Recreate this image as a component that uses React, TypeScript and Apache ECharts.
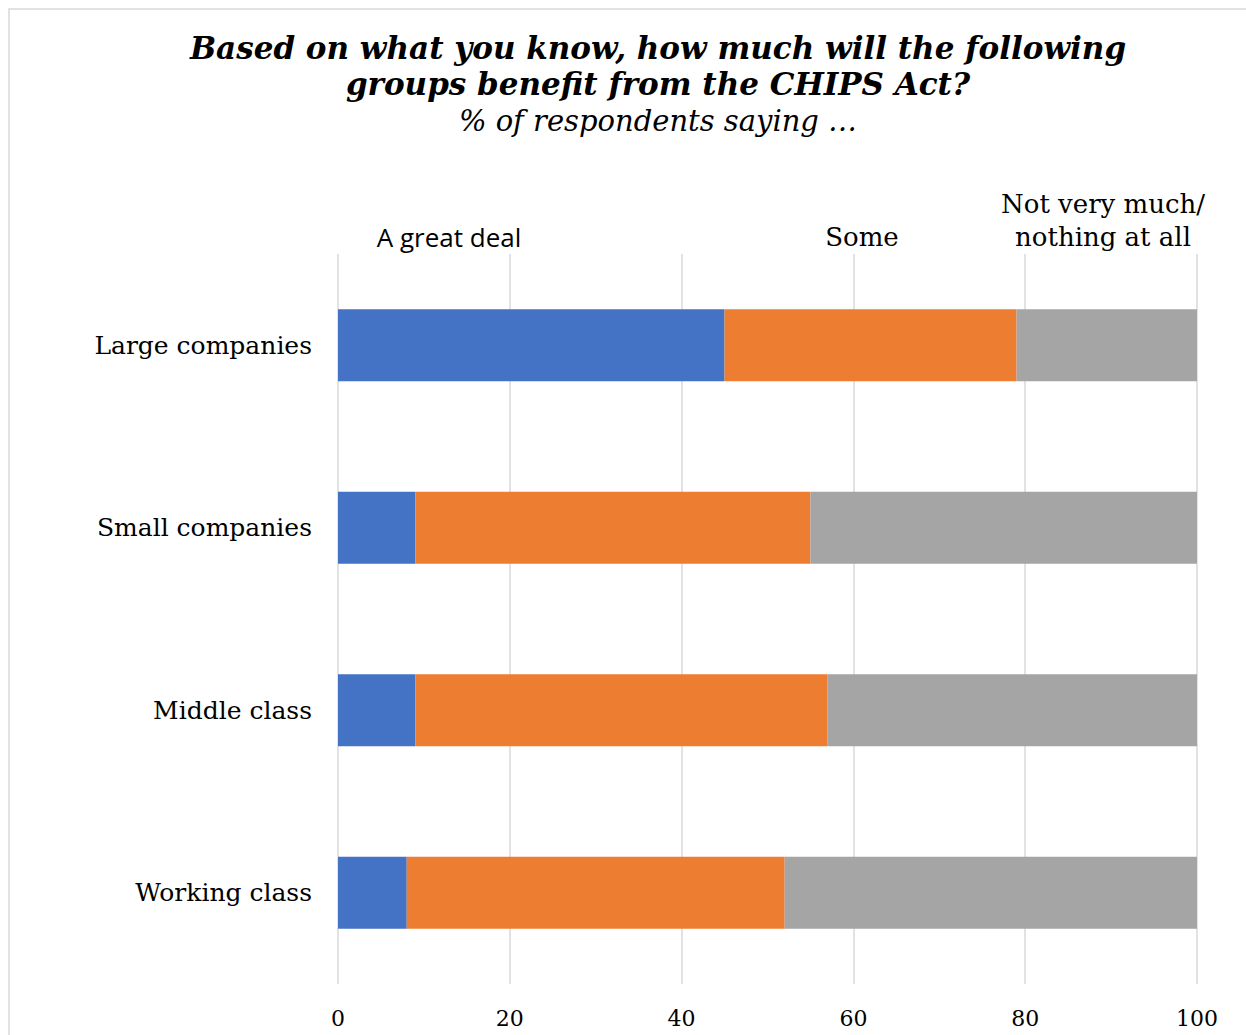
import React, { useEffect, useRef } from "react";
import * as echarts from "echarts";

const categories = ["Large companies", "Small companies", "Middle class", "Working class"];
const greatDeal = [45, 9, 9, 8];
const some = [34, 46, 48, 44];
const notMuch = [21, 45, 43, 48];
const xTicks = [0, 20, 40, 60, 80, 100];
const seriesNames = ["A great deal", "Some", "Not very much/\nnothing at all"];

export default function App() {
  const ref = useRef<HTMLDivElement>(null);
  useEffect(() => {
    if (!ref.current) return;
    const chart = echarts.init(ref.current, null, { renderer: "svg" });
    const serif = "DejaVu Serif";
    chart.setOption({
      animation: false,
      backgroundColor: "#ffffff",
      grid: { left: 338, right: 49, top: 254, bottom: 51, containLabel: false },
      xAxis: {
        type: "value",
        min: xTicks[0],
        max: xTicks[xTicks.length - 1],
        interval: 20,
        axisLine: { show: false },
        axisTick: { show: false },
        splitLine: { show: true, lineStyle: { color: "#d9d9d9", width: 1.5 } },
        axisLabel: { fontFamily: serif, fontSize: 22, color: "#000", margin: 23 },
      },
      yAxis: {
        type: "category",
        data: categories,
        inverse: true,
        axisLine: { show: false },
        axisTick: { show: false },
        axisLabel: { fontFamily: serif, fontSize: 25, color: "#000", margin: 26 },
      },
      series: [
        { name: seriesNames[0], type: "bar", stack: "t", data: greatDeal, barWidth: 72, itemStyle: { color: "#4472C4" } },
        { name: seriesNames[1], type: "bar", stack: "t", data: some, barWidth: 72, itemStyle: { color: "#ED7D31" } },
        { name: seriesNames[2], type: "bar", stack: "t", data: notMuch, barWidth: 72, itemStyle: { color: "#A5A5A5" } },
      ],
      graphic: [
        { type: "rect", shape: { x: 9, y: 9, width: 1400, height: 1200 }, style: { fill: "none", stroke: "#d9d9d9", lineWidth: 1.5 }, silent: true },
        { type: "text", x: 658, y: 48, style: { text: "Based on what you know, how much will the following", font: `italic bold 31px "${serif}"`, fill: "#000", textAlign: "center", textVerticalAlign: "middle" } },
        { type: "text", x: 658, y: 84, style: { text: "groups benefit from the CHIPS Act?", font: `italic bold 31px "${serif}"`, fill: "#000", textAlign: "center", textVerticalAlign: "middle" } },
        { type: "text", x: 658, y: 121, style: { text: "% of respondents saying …", font: `italic 29px "${serif}"`, fill: "#000", textAlign: "center", textVerticalAlign: "middle" } },
        { type: "text", x: 449, y: 237, style: { text: seriesNames[0], font: `26px "Open Sans"`, fill: "#000", textAlign: "center", textVerticalAlign: "middle" } },
        { type: "text", x: 862, y: 237, style: { text: seriesNames[1], font: `26px "${serif}"`, fill: "#000", textAlign: "center", textVerticalAlign: "middle" } },
        { type: "text", x: 1103, y: 204, style: { text: "Not very much/", font: `26px "${serif}"`, fill: "#000", textAlign: "center", textVerticalAlign: "middle" } },
        { type: "text", x: 1103, y: 237, style: { text: "nothing at all", font: `26px "${serif}"`, fill: "#000", textAlign: "center", textVerticalAlign: "middle" } },
      ],
    });
    return () => chart.dispose();
  }, []);
  return <div ref={ref} style={{ position: "absolute", left: 0, top: 0, width: 1246, height: 1035 }} />;
}
